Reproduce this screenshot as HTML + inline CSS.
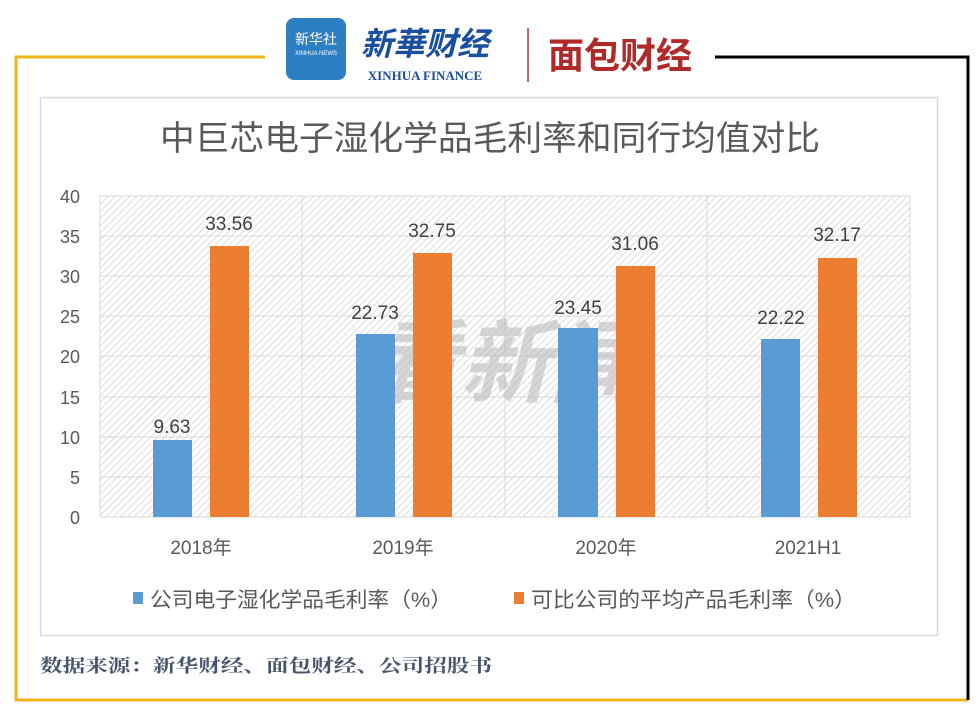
<!DOCTYPE html>
<html><head><meta charset="utf-8"><style>
body{margin:0;background:#fff;width:978px;height:716px;overflow:hidden;font-family:"Liberation Sans","Noto Sans CJK SC",sans-serif}
</style></head><body>
<svg width="978" height="716" xmlns="http://www.w3.org/2000/svg" font-family="Liberation Sans, Noto Sans CJK SC, sans-serif">
<defs>
<pattern id="h" width="5" height="5" patternUnits="userSpaceOnUse" patternTransform="rotate(45)">
<rect width="5" height="5" fill="#fff"/><line x1="0" y1="0" x2="0" y2="5" stroke="#d0d0d0" stroke-width="1.5"/>
</pattern>
</defs>
<polyline points="265,57 16,57 16,700 968,700" fill="none" stroke="#f0b419" stroke-width="3"/>
<polyline points="715,57 968,57 968,700" fill="none" stroke="#000" stroke-width="3"/>
<rect x="286" y="18" width="60" height="62" rx="8" fill="#2d7fc4"/>
<text x="316" y="44" font-size="14" fill="#fff" text-anchor="middle">新华社</text>
<text x="316" y="55" font-size="6" fill="#fff" text-anchor="middle">XINHUA NEWS</text>
<text x="425" y="55" font-size="32" fill="#1a4fa0" text-anchor="middle" font-style="italic" font-weight="bold">新華财经</text>
<text x="425" y="80" font-size="13" fill="#1a4fa0" text-anchor="middle" font-family="Liberation Serif, serif" font-weight="bold">XINHUA FINANCE</text>
<line x1="528" y1="28" x2="528" y2="82" stroke="#b33" stroke-width="1.5"/>
<text x="620" y="68" font-size="36" fill="#b02a2a" text-anchor="middle" font-weight="bold">面包财经</text>
<rect x="40.5" y="97.5" width="897" height="538" fill="#fff" stroke="#d9d9d9" stroke-width="1.5"/>
<text x="160" y="150" font-size="34" fill="#595959" textLength="660" lengthAdjust="spacingAndGlyphs">中巨芯电子湿化学品毛利率和同行均值对比</text>
<rect x="100" y="196" width="810" height="321" fill="url(#h)"/>
<g stroke="#d9d9d9" stroke-width="1">
<line x1="100" y1="196" x2="910" y2="196"/><line x1="100" y1="236" x2="910" y2="236"/><line x1="100" y1="276" x2="910" y2="276"/><line x1="100" y1="316" x2="910" y2="316"/><line x1="100" y1="356" x2="910" y2="356"/><line x1="100" y1="397" x2="910" y2="397"/><line x1="100" y1="437" x2="910" y2="437"/><line x1="100" y1="477" x2="910" y2="477"/><line x1="100" y1="517" x2="910" y2="517"/>
<line x1="100" y1="196" x2="100" y2="517"/><line x1="302" y1="196" x2="302" y2="517"/><line x1="505" y1="196" x2="505" y2="517"/><line x1="707" y1="196" x2="707" y2="517"/><line x1="910" y1="196" x2="910" y2="517"/>
</g>
<g font-size="18" fill="#595959" text-anchor="end">
<text x="80" y="203">40</text><text x="80" y="243">35</text><text x="80" y="283">30</text><text x="80" y="323">25</text><text x="80" y="363">20</text><text x="80" y="404">15</text><text x="80" y="444">10</text><text x="80" y="484">5</text><text x="80" y="524">0</text>
</g>
<text x="505" y="395" font-size="90" fill="#bbbbbb" opacity="0.6" text-anchor="middle" font-weight="bold" font-style="italic">看新闻</text>
<g fill="#5b9bd5">
<rect x="153" y="440" width="39" height="77"/><rect x="356" y="334" width="39" height="183"/><rect x="558" y="328" width="40" height="189"/><rect x="761" y="339" width="39" height="178"/>
</g>
<g fill="#ed7d31">
<rect x="210" y="246" width="39" height="271"/><rect x="413" y="253" width="39" height="264"/><rect x="616" y="266" width="39" height="251"/><rect x="818" y="258" width="39" height="259"/>
</g>
<g font-size="19" fill="#404040" text-anchor="middle">
<text x="172" y="433">9.63</text><text x="375" y="319">22.73</text><text x="578" y="314">23.45</text><text x="781" y="324">22.22</text>
<text x="229" y="230">33.56</text><text x="432" y="237">32.75</text><text x="635" y="250">31.06</text><text x="837" y="241">32.17</text>
</g>
<g font-size="19" fill="#595959" text-anchor="middle">
<text x="201" y="554">2018年</text><text x="403" y="554">2019年</text><text x="606" y="554">2020年</text><text x="808" y="554">2021H1</text>
</g>
<rect x="133" y="592" width="10" height="12" fill="#5b9bd5"/>
<text x="150" y="607" font-size="21" fill="#595959" textLength="302" lengthAdjust="spacingAndGlyphs">公司电子湿化学品毛利率（%）</text>
<rect x="514" y="592" width="10" height="12" fill="#ed7d31"/>
<text x="531" y="607" font-size="21" fill="#595959" textLength="325" lengthAdjust="spacingAndGlyphs">可比公司的平均产品毛利率（%）</text>
<text x="40" y="672" font-size="18" fill="#44546a" font-weight="bold" font-family="Noto Serif CJK SC, serif" textLength="452" lengthAdjust="spacingAndGlyphs">数据来源：新华财经、面包财经、公司招股书</text>
</svg>
</body></html>
